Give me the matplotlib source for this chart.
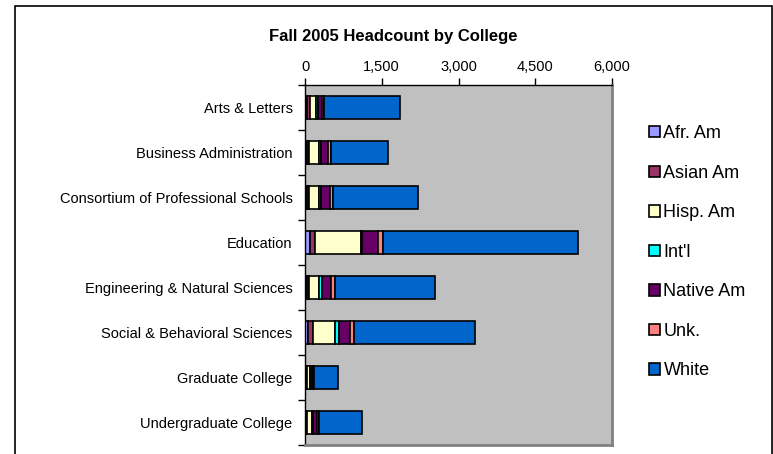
import numpy as np
import matplotlib.pyplot as plt
from matplotlib.patches import Rectangle

plt.rcParams['font.family'] = ['Liberation Sans', 'DejaVu Sans']

# colleges, top to bottom
colleges = ['Arts & Letters', 'Business Administration',
            'Consortium of Professional Schools', 'Education',
            'Engineering & Natural Sciences', 'Social & Behavioral Sciences',
            'Graduate College', 'Undergraduate College']

groups = ['Afr. Am', 'Asian Am', 'Hisp. Am', "Int'l", 'Native Am', 'Unk.', 'White']
colors = ['#9999FF', '#993366', '#FFFFCC', '#00FFFF', '#660066', '#FF8080', '#0066CC']

afr_am    = [40, 40, 40, 105, 30, 65, 15, 20]
asian_am  = [50, 45, 45, 90, 55, 85, 30, 25]
hisp_am   = [130, 180, 180, 890, 195, 440, 45, 90]
intl      = [25, 45, 45, 25, 45, 65, 20, 20]
native_am = [80, 130, 170, 315, 175, 215, 40, 70]
unk       = [40, 60, 60, 105, 85, 85, 20, 40]
white     = [1490, 1130, 1670, 3810, 1960, 2365, 480, 850]

series = [afr_am, asian_am, hisp_am, intl, native_am, unk, white]

fig = plt.figure(figsize=(7.73, 4.54), dpi=100)
ax = fig.add_axes([305/773, 1 - 445/454, 307/773, 360/454])
ax.set_facecolor('#C0C0C0')

y = np.arange(len(colleges))
left = np.zeros(len(colleges))
for name, vals, c in zip(groups, series, colors):
    ax.barh(y, vals, left=left, height=0.5, color=c, edgecolor='black',
            linewidth=1.2, label=name)
    left += np.array(vals)

ax.set_ylim(len(colleges) - 0.5, -0.5)
ax.set_xlim(0, 6000)
ax.xaxis.tick_top()
ax.set_xticks([0, 1500, 3000, 4500, 6000])
ax.set_xticklabels(['0', '1,500', '3,000', '4,500', '6,000'], fontsize=10.5)
ax.set_yticks(y)
ax.set_yticklabels(colleges, fontsize=10.5)
ax.set_yticks(np.arange(-0.5, len(colleges), 1), minor=True)
ax.tick_params(axis='y', which='major', length=0, pad=9)
ax.tick_params(axis='y', which='minor', length=5, width=1, direction='out')
ax.tick_params(axis='x', length=5, width=1, direction='out', pad=3)
for s in ['top', 'left']:
    ax.spines[s].set_color('black')
    ax.spines[s].set_linewidth(1)
for s in ['right', 'bottom']:
    ax.spines[s].set_color('#808080')
    ax.spines[s].set_linewidth(2)

fig.text(393/773, 1 - 37/454, 'Fall 2005 Headcount by College',
         ha='center', va='center', fontsize=12, fontweight='bold')

handles, labels = ax.get_legend_handles_labels()
fig.legend(handles, labels, loc='upper left', bbox_to_anchor=(640/773, 1 - 116/454),
           frameon=False, fontsize=13, handlelength=0.6, handleheight=0.6,
           handletextpad=0.2, labelspacing=1.25, borderpad=0)

fig.add_artist(Rectangle((15/773, -0.1), 757/773, 1.1 - 6/454,
                         transform=fig.transFigure, fill=False,
                         edgecolor='black', linewidth=1.2))

fig.savefig('out.png', dpi=100)
